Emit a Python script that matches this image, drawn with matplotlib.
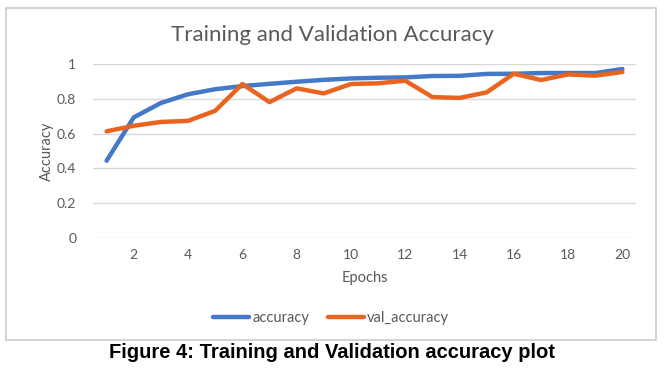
import matplotlib.pyplot as plt
from matplotlib.patches import Rectangle

epochs = list(range(1, 21))
accuracy = [0.444, 0.693, 0.776, 0.826, 0.855, 0.873, 0.886, 0.898, 0.909, 0.917,
            0.921, 0.923, 0.931, 0.932, 0.943, 0.944, 0.948, 0.948, 0.948, 0.971]
val_accuracy = [0.613, 0.645, 0.667, 0.673, 0.731, 0.885, 0.781, 0.860, 0.831, 0.885,
                0.889, 0.904, 0.810, 0.805, 0.837, 0.944, 0.908, 0.940, 0.933, 0.954]
xticks = [2, 4, 6, 8, 10, 12, 14, 16, 18, 20]
yticks = [0, 0.2, 0.4, 0.6, 0.8, 1]

grey = "#595959"
font = ["Lato", "DejaVu Sans"]

fig = plt.figure(figsize=(6.64, 3.73), dpi=100)

# chart frame like an Excel chart object
fig.patches.append(Rectangle((6 / 664, 1 - 340 / 373), 650 / 664, 332 / 373,
                             transform=fig.transFigure, fill=False,
                             edgecolor="#cccccc", linewidth=1.2))

ax = fig.add_axes([93 / 664, 1 - 238 / 373, 543 / 664, 174 / 373])
ax.plot(epochs, accuracy, color="#4478C8", linewidth=3.2, label="accuracy",
        solid_capstyle="round")
ax.plot(epochs, val_accuracy, color="#E8641F", linewidth=3.2, label="val_accuracy",
        solid_capstyle="round")

ax.set_xlim(0.5, 20.5)
ax.set_ylim(0, 1)
ax.set_xticks(xticks)
ax.set_yticks(yticks)
ax.set_yticklabels(["0", "0.2", "0.4", "0.6", "0.8", "1"])
ax.grid(axis="y", color="#d9d9d9", linewidth=1)
ax.set_axisbelow(True)
for s in ax.spines.values():
    s.set_visible(False)
ax.tick_params(length=0, labelsize=10, labelcolor=grey, pad=8)
for lab in ax.get_xticklabels() + ax.get_yticklabels():
    lab.set_family(font)
ax.yaxis.set_tick_params(pad=12)

ax.set_xlabel("Epochs", color=grey, fontsize=10.5, family=font, labelpad=7)
ax.set_ylabel("Accuracy", color=grey, fontsize=10.5, family=font, labelpad=2)

fig.text(0.5, 1 - 35 / 373, "Training and Validation Accuracy", ha="center",
         va="center", fontsize=16, color=grey, family=font)

leg = fig.legend(*ax.get_legend_handles_labels(), loc="center",
                 bbox_to_anchor=(331 / 664, 1 - 318 / 373), ncol=2,
                 frameon=False, handlelength=2.5, handletextpad=0.2,
                 columnspacing=1.3, prop={"family": font, "size": 10.5})
for t in leg.get_texts():
    t.set_color(grey)

fig.text(0.5, 1 - 352 / 373, "Figure 4: Training and Validation accuracy plot",
         ha="center", va="center", fontsize=14.5, fontweight="bold",
         family=["Liberation Sans Narrow", "Liberation Sans"], color="black")

fig.savefig("out.png", dpi=100)
